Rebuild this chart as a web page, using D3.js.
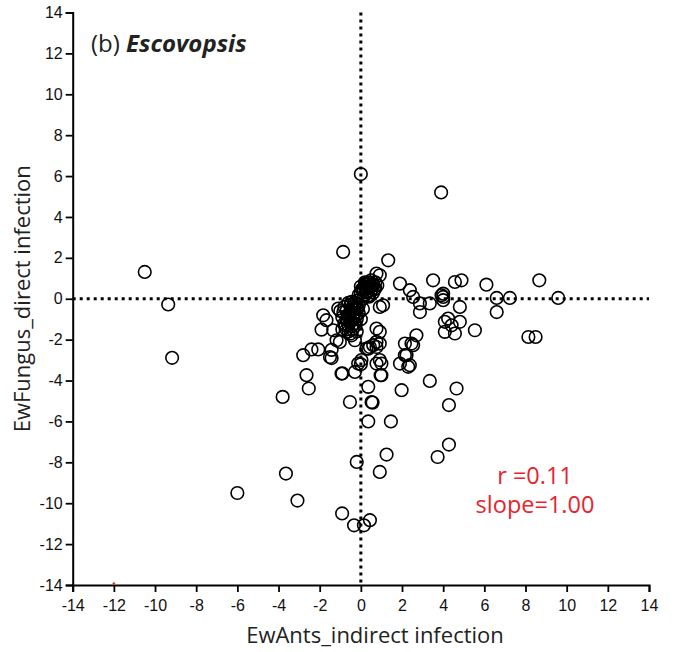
<!DOCTYPE html>
<html>
<head>
<meta charset="utf-8">
<script src="https://cdn.jsdelivr.net/npm/d3@7"></script>
<style>
  html, body { margin: 0; padding: 0; background: #fff; }
  svg { display: block; }
</style>
</head>
<body>
<script>
// EwAnts (indirect infection) values, one per isolate
const antsX = [
  -10.5, -9.36, -9.17, -6.0, -3.8, -3.64, -3.08, -0.86, -0.91, -0.33, -0.2, 0.0, 0.15, 0.44,
  3.9, 1.33, -0.53, 0.52, 0.36, 1.46, 0.36, 0.57, 1.98, 3.35, 4.65, 4.28, 4.28, 3.73, 1.25, 0.92,
  -2.8, -2.4, -2.07, -1.42, -1.42, -0.9, -2.64, -2.53, -0.94, -0.29, -0.13, 0.03, 0.27, 0.44, 0.6, 0.76,
  0.92, 0.76, 1.0, 0.96, 1.9, 2.3, 2.22, 2.14, 2.54, 2.14, 2.7, 2.46, 2.38,
  0.76, 0.92, 1.9, 2.38, 2.54, 2.87, 2.87, 3.35, 3.51, 4.0, 4.0, 4.0, 3.92, 4.57, 4.89, 4.81,
  4.24, 4.08, 4.41, 4.08, 4.57, 4.81, 5.54, 6.1, 6.6, 7.24, 9.59, 6.6, 8.67, 8.14, 8.49,
  0.92, 0.92, 0.92, 1.0, 1.08, 0.76, 0.76, -1.83, -1.67, -1.91, -1.34, -1.1, -1.5, -1.18, -1.02,
  -0.29, -0.45, 0.36, 0.0,
  // dense group just above the origin
  0.0, 0.1, 0.2, 0.3, 0.4, 0.5, 0.6, 0.7, 0.3, 0.5, 0.2, 0.4, 0.6, 0.1, 0.2, 0.5, 0.3, 0.7, 0.0, -0.1,
  0.15, 0.35, 0.55, 0.25, 0.45, 0.65, 0.05, 0.35, 0.8, 0.25,
  // dense group just below the origin
  -0.2, -0.3, -0.1, -0.4, -0.2, -0.5, -0.3, -0.6, -0.4, -0.7, -0.5, -0.8, -0.6, -0.3, -0.9, -0.7,
  -0.4, -0.8, -0.6, -0.1, 0.0, -0.2, -0.9, -0.5, -1.0, -0.2, 0.1, -0.7, -0.3, -0.45,
  -0.35, -0.55, -0.25, -0.65, -0.45, -0.75, -0.15, -0.5, -0.85, -0.35, -0.6, -0.25
];
// EwFungus (direct infection) values, same order
const fungusY = [
  1.31, -0.28, -2.89, -9.5, -4.8, -8.55, -9.87, 2.29, -10.5, -11.08, -7.98, 6.1, -11.08, -10.83,
  5.2, 1.88, -5.05, -5.05, -6.0, -6.0, -4.31, -5.08, -4.47, -4.02, -4.39, -5.2, -7.13, -7.74, -7.62, -8.47,
  -2.76, -2.48, -2.48, -2.5, -2.9, -3.65, -3.74, -4.39, -3.66, -3.58, -3.17, -3.0, -2.44, -2.36, -2.27, -2.36,
  -3.0, -3.17, -3.74, -3.74, -3.17, -3.33, -2.76, -2.76, -2.27, -2.19, -1.79, -2.19, -3.25,
  1.23, 1.15, 0.74, 0.42, 0.09, -0.23, -0.65, -0.23, 0.9, 0.25, 0.09, -0.07, 0.17, 0.82, 0.9, -0.4,
  -0.97, -1.13, -1.3, -1.62, -1.7, -1.13, -1.54, 0.69, 0.04, 0.04, 0.04, -0.65, 0.9, -1.87, -1.87,
  -0.4, -1.62, -2.19, -3.17, -0.32, -1.46, -2.11, -0.81, -1.05, -1.51, -1.54, -0.48, -2.85, -2.03, -2.11,
  -2.03, -1.79, -2.44, -3.2,
  0.3, 0.5, 0.6, 0.7, 0.8, 0.6, 0.7, 0.5, 0.3, 0.4, 0.2, 0.1, 0.3, 0.0, 0.8, 0.9, 0.5, 0.8, 0.6, 0.2,
  0.4, 0.6, 0.5, 0.35, 0.65, 0.45, 0.45, 0.15, 0.65, 0.75,
  -0.1, -0.2, -0.3, -0.4, -0.5, -0.6, -0.7, -0.8, -0.9, -1.0, -1.1, -1.2, -1.3, -1.2, -0.9, -1.5,
  -1.5, -0.4, -0.2, -0.7, -1.0, -1.0, -1.5, -1.7, -0.6, -1.6, -0.5, -0.6, -0.45, -0.15,
  -0.55, -0.85, -0.85, -1.05, -1.35, -1.3, -0.45, -0.3, -0.65, -1.0, -1.6, -1.3
];
const axisTicks = [-14, -12, -10, -8, -6, -4, -2, 0, 2, 4, 6, 8, 10, 12, 14];
const panelLabel = "(b) ";
const speciesName = "Escovopsis";
const xTitle = "EwAnts_indirect infection";
const yTitle = "EwFungus_direct infection";
const statLines = ["r =0.11", "slope=1.00"];

const W = 676, H = 652;
const m = { left: 72.7, top: 12.5, right: 27, bottom: 67 };

const svg = d3.select("body").append("svg").attr("width", W).attr("height", H);

const x = d3.scaleLinear().domain([-14, 14]).range([m.left, W - m.right]);
const y = d3.scaleLinear().domain([-14, 14]).range([H - m.bottom, m.top]);

const fmt = d => String(d);
const tickFont = "'Liberation Sans', Arial, sans-serif";

// zero reference lines
const dotted = svg.append("g").attr("stroke", "#000").attr("stroke-width", 3)
  .attr("stroke-dasharray", "3,4");
dotted.append("line").attr("x1", x(-14)).attr("x2", x(14)).attr("y1", y(0)).attr("y2", y(0));
dotted.append("line").attr("x1", x(0)).attr("x2", x(0)).attr("y1", y(14)).attr("y2", y(-14));

// axes
const xAxis = svg.append("g").attr("transform", `translate(0,${y(-14)})`)
  .call(d3.axisBottom(x).tickValues(axisTicks).tickFormat(fmt).tickSizeOuter(0).tickSize(7).tickPadding(8));
const yAxis = svg.append("g").attr("transform", `translate(${x(-14)},0)`)
  .call(d3.axisLeft(y).tickValues(axisTicks).tickFormat(fmt).tickSizeOuter(0).tickSize(7).tickPadding(3));
[xAxis, yAxis].forEach(a => {
  a.select(".domain").attr("stroke-width", 2);
  a.selectAll(".tick line").attr("stroke-width", 1.8);
  a.selectAll(".tick text").attr("font-family", tickFont).attr("font-size", 16).attr("fill", "#111");
});

// data points
svg.append("g").selectAll("circle")
  .data(d3.zip(antsX, fungusY))
  .join("circle")
  .attr("cx", d => x(d[0]))
  .attr("cy", d => y(d[1]))
  .attr("r", 6.3)
  .attr("fill", "none")
  .attr("stroke", "#000")
  .attr("stroke-width", 1.6);

// small red mark on the baseline
svg.append("circle").attr("cx", x(-12)).attr("cy", y(-14) - 1.5).attr("r", 1.3).attr("fill", "#e0303a");

// panel title
const titleFont = "'Open Sans', 'Noto Sans', sans-serif";
const t = svg.append("text").attr("x", 91).attr("y", 52)
  .attr("font-family", titleFont).attr("font-size", 24).attr("fill", "#222");
t.append("tspan").text(panelLabel);
t.append("tspan").attr("font-weight", "bold").attr("font-style", "italic").text(speciesName);

// axis titles
svg.append("text").attr("x", 375).attr("y", 643).attr("text-anchor", "middle")
  .attr("font-family", titleFont).attr("font-size", 22).attr("fill", "#222").text(xTitle);
svg.append("text").attr("transform", `translate(30,${y(0)}) rotate(-90)`).attr("text-anchor", "middle")
  .attr("font-family", titleFont).attr("font-size", 22).attr("fill", "#222").text(yTitle);

// correlation annotation
svg.append("g").selectAll("text").data(statLines).join("text")
  .attr("x", 535).attr("y", (d, i) => 484 + i * 29).attr("text-anchor", "middle")
  .attr("font-family", titleFont).attr("font-size", 23.5).attr("fill", "#e8232d")
  .text(d => d);
</script>
</body>
</html>
